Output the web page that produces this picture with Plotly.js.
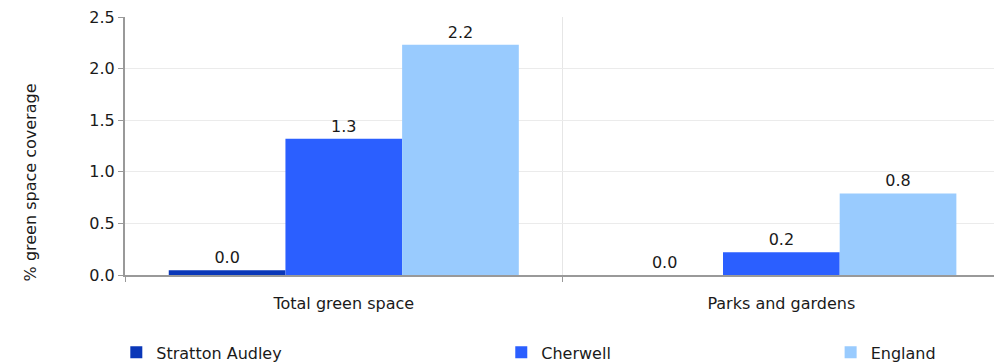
<!DOCTYPE html>
<html>
<head>
<meta charset="utf-8">
<script src="https://cdn.plot.ly/plotly-3.0.1.min.js"></script>
<style>html,body{margin:0;padding:0;background:#fff;}#chart{width:994px;height:363px;}</style>
</head>
<body>
<div id="chart"></div>
<script>
var categories = ["Total green space", "Parks and gardens"];
var seriesNames = ["Stratton Audley", "Cherwell", "England"];
var strattonAudley = [0.045, 0.0];
var cherwell = [1.32, 0.22];
var england = [2.23, 0.79];
var yTickValues = [0, 0.5, 1, 1.5, 2, 2.5];
var yTickLabels = ["0.0", "0.5", "1.0", "1.5", "2.0", "2.5"];
var yTitle = "% green space coverage";

var colors = ["#0a37b8", "#2b5fff", "#99cbfe"];
var values = [strattonAudley, cherwell, england];
var legendIds = ["legend", "legend2", "legend3"];
var font = {family: "DejaVu Sans, Verdana, sans-serif", size: 16, color: "#1a1a1a"};

var traces = values.map(function (v, i) {
  return {
    type: "bar",
    name: seriesNames[i],
    x: categories,
    y: v,
    marker: {color: colors[i]},
    text: v.map(function (d) { return d.toFixed(1); }),
    texttemplate: "%{text}",
    textposition: "outside",
    textfont: font,
    cliponaxis: false,
    legend: legendIds[i],
    hoverinfo: "skip"
  };
});

function legendAt(x) {
  return {orientation: "h", x: x, xanchor: "left", xref: "paper",
    y: 0.029, yanchor: "middle", yref: "container",
    font: font, bgcolor: "rgba(0,0,0,0)", itemwidth: 30, traceorder: "normal"};
}

var layout = {
  width: 994, height: 363,
  margin: {l: 125, r: 0, t: 17, b: 88, autoexpand: false},
  paper_bgcolor: "#fff", plot_bgcolor: "#fff",
  font: font,
  barmode: "group",
  bargap: 0.2,
  bargroupgap: 0,
  showlegend: true,
  legend: legendAt(-0.01),
  legend2: legendAt(0.433),
  legend3: legendAt(0.812),
  xaxis: {
    type: "category",
    range: [-0.5, 1.486],
    tickson: "boundaries",
    ticks: "outside", ticklen: 5, tickcolor: "#999",
    ticklabelstandoff: 13,
    showgrid: true, gridcolor: "#e6e6e6", gridwidth: 1,
    showline: true, linecolor: "#999", linewidth: 2,
    tickfont: font, fixedrange: true, automargin: false
  },
  yaxis: {
    range: [0, 2.5],
    tickvals: yTickValues, ticktext: yTickLabels,
    ticks: "outside", ticklen: 5, tickcolor: "#999",
    showgrid: true, gridcolor: "#ebebeb", gridwidth: 1,
    showline: true, linecolor: "#999", linewidth: 2,
    zeroline: false,
    tickfont: font,
    fixedrange: true, automargin: false
  },
  annotations: [{
    text: yTitle, textangle: -90, showarrow: false,
    xref: "paper", yref: "paper", x: -0.109, y: 0.36,
    xanchor: "center", yanchor: "middle", font: font
  }]
};

Plotly.newPlot("chart", traces, layout, {displayModeBar: false, staticPlot: true});
</script>
</body>
</html>
